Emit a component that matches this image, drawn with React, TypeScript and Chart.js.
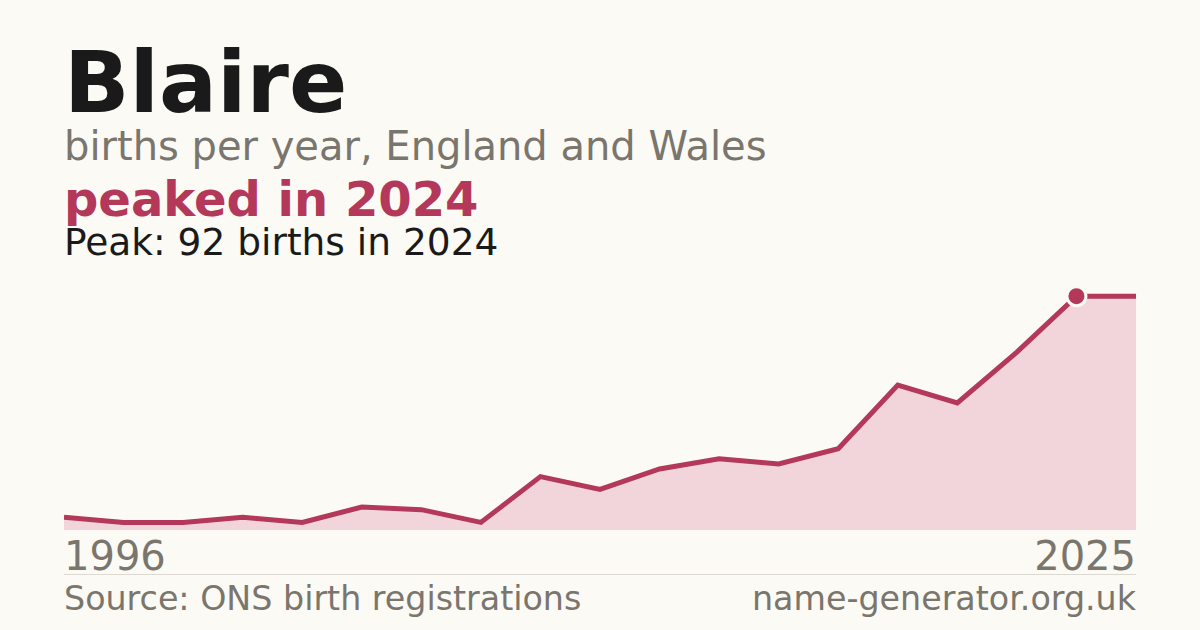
import { useRef, useEffect } from 'react';
import { Chart, registerables } from 'chart.js';

Chart.register(...registerables);

// Years with at least 3 registrations; ONS omits the rest
const years = [
  '1996', '2008', '2009', '2010', '2011', '2012', '2013', '2014', '2015', '2016',
  '2017', '2018', '2019', '2020', '2021', '2022', '2023', '2024', '2025',
];
const births = [5, 3, 3, 5, 3, 9, 8, 3, 21, 16, 24, 28, 26, 32, 57, 50, 70, 92, 92];
const peakIndex = 17;

const ACCENT = '#b3385a';
const GREY = '#7a756d';
const FONT = '"DejaVu Sans", sans-serif';

function BirthsChart() {
  const canvasRef = useRef<HTMLCanvasElement>(null);

  useEffect(() => {
    if (!canvasRef.current) return;
    const ctx = canvasRef.current.getContext('2d');
    if (!ctx) return;

    const chart = new Chart(ctx, {
      type: 'line',
      data: {
        labels: years,
        datasets: [{
          data: births,
          borderColor: ACCENT,
          borderWidth: 5,
          backgroundColor: '#f1d5db',
          fill: 'origin',
          tension: 0,
          pointRadius: births.map((_, i) => (i === peakIndex ? 9.5 : 0)),
          pointBackgroundColor: ACCENT,
          pointBorderColor: '#fbfaf5',
          pointBorderWidth: 3,
        }],
      },
      options: {
        animation: false,
        responsive: false,
        maintainAspectRatio: false,
        layout: { padding: 0 },
        scales: {
          x: { display: false, offset: false },
          y: { display: false, min: 0, max: 96 },
        },
        plugins: {
          legend: { display: false },
          tooltip: { enabled: false },
        },
      },
    });
    return () => { chart.destroy(); };
  }, []);

  return (
    <canvas
      ref={canvasRef}
      width={1072}
      height={244}
      style={{ position: 'absolute', left: 64, top: 286, width: 1072, height: 244 }}
    />
  );
}

export default function App() {
  const text = (top: number, size: number, color: string, weight = 400) => ({
    position: 'absolute' as const,
    top,
    fontSize: size,
    lineHeight: 1,
    color,
    fontWeight: weight,
    whiteSpace: 'nowrap' as const,
  });

  return (
    <div style={{
      position: 'fixed', left: 0, top: 0, width: 1200, height: 630,
      background: '#fbfaf5', fontFamily: FONT, overflow: 'hidden',
    }}>
      <div style={{ ...text(39, 86, '#1a1a1a', 700), left: 64 }}>Blaire</div>
      <div style={{ ...text(126, 40, GREY), left: 64 }}>births per year, England and Wales</div>
      <div style={{ ...text(175, 48, ACCENT, 700), left: 64 }}>peaked in 2024</div>
      <div style={{ ...text(224, 37.5, '#1a1a1a'), left: 64 }}>Peak: 92 births in 2024</div>

      <BirthsChart />

      <div style={{ ...text(536, 40, GREY), left: 64 }}>1996</div>
      <div style={{ ...text(536, 40, GREY), right: 64 }}>2025</div>
      <div style={{ position: 'absolute', left: 64, top: 574, width: 1072, height: 1, background: '#dcd9d2' }} />
      <div style={{ ...text(582, 33.3, GREY), left: 64 }}>Source: ONS birth registrations</div>
      <div style={{ ...text(582, 33.3, GREY), right: 64 }}>name-generator.org.uk</div>
    </div>
  );
}
